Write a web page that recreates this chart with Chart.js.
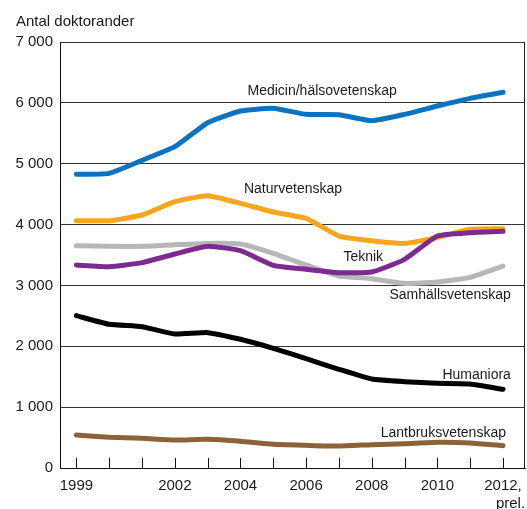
<!DOCTYPE html>
<html>
<head>
<meta charset="utf-8">
<script src="https://cdn.jsdelivr.net/npm/chart.js@4/dist/chart.umd.min.js"></script>
<style>
html,body{margin:0;padding:0;background:#fff;}
#wrap{width:527px;height:509px;position:relative;}
</style>
</head>
<body>
<div id="wrap"><canvas id="c" width="527" height="509"></canvas></div>
<script>
const years = [1999,2000,2001,2002,2003,2004,2005,2006,2007,2008,2009,2010,2011,2012];
const labeledYears = [1999,2002,2004,2006,2008,2010,2012];
const yTicks = [0,1000,2000,3000,4000,5000,6000,7000];

const medicin = [4826,4842,5055,5280,5674,5866,5910,5811,5805,5707,5811,5948,6074,6173];
const naturvetenskap = [4064,4064,4157,4376,4475,4349,4206,4102,3812,3735,3691,3790,3922,3932];
const teknik = [3336,3308,3374,3516,3643,3571,3331,3265,3209,3220,3429,3812,3866,3889];
const samhallsvetenskap = [3653,3643,3643,3669,3691,3680,3527,3336,3155,3111,3034,3056,3133,3319];
const humaniora = [2503,2361,2322,2202,2224,2115,1967,1796,1622,1462,1418,1391,1380,1293];
const lantbruksvetenskap = [542,504,488,460,471,438,389,373,361,383,399,422,411,367];

const seriesNames = ["Medicin/hälsovetenskap","Naturvetenskap","Teknik","Samhällsvetenskap","Humaniora","Lantbruksvetenskap"];
const seriesValues = [medicin,naturvetenskap,teknik,samhallsvetenskap,humaniora,lantbruksvetenskap];
const seriesColors = ["#0b73c1","#f8a620","#7d2a91","#b5b7b9","#000000","#8c6239"];

// label anchor points in data space [x, y, align]
const labelAnchors = [
  [2006.49, 6200, "center"],
  [2005.6, 4584, "center"],
  [2007.74, 3459, "center"],
  [2012.24, 2834, "right"],
  [2012.24, 1520, "right"],
  [2012.09, 575, "right"]
];

const FONT = "'Liberation Sans', Arial, Helvetica, sans-serif";

const datasets = seriesNames.map((n,i)=>({
  label:n,
  data: years.map((y,j)=>({x:y,y:seriesValues[i][j]})),
  borderColor: seriesColors[i],
  backgroundColor: seriesColors[i],
  borderWidth: 5,
  pointRadius: 0,
  tension: 0.15,
  borderCapStyle: 'round',
  borderJoinStyle: 'round',
  fill: false,
  order: [1,3,2,4,5,6][i]
}));

const overlay = {
  id:'overlay',
  afterDraw(chart){
    const ctx = chart.ctx;
    const xs = chart.scales.x, ys = chart.scales.y;
    const area = chart.chartArea;
    ctx.save();
    // inner tick marks
    ctx.strokeStyle = '#111';
    ctx.lineWidth = 1;
    years.forEach(y=>{
      const px = Math.round(xs.getPixelForValue(y))+0.5;
      ctx.beginPath();
      ctx.moveTo(px, area.bottom);
      ctx.lineTo(px, area.bottom-10);
      ctx.stroke();
    });
    // right border
    ctx.beginPath();
    ctx.moveTo(Math.round(area.right)-0.5, area.top);
    ctx.lineTo(Math.round(area.right)-0.5, area.bottom);
    ctx.strokeStyle = '#222';
    ctx.stroke();
    // series labels
    ctx.fillStyle = '#1a1a1a';
    ctx.font = '14px ' + FONT;
    ctx.textBaseline = 'middle';
    labelAnchors.forEach((a,i)=>{
      ctx.textAlign = a[2];
      ctx.fillText(seriesNames[i], xs.getPixelForValue(a[0]), ys.getPixelForValue(a[1]));
    });
    // axis title
    ctx.textAlign = 'left';
    ctx.font = '15px ' + FONT;
    ctx.fillText('Antal doktorander', 16, 22);
    ctx.restore();
  }
};

new Chart(document.getElementById('c'), {
  type:'line',
  data:{datasets},
  options:{
    responsive:false,
    animation:false,
    layout:{padding:{left:0,right:2,top:42,bottom:0}},
    plugins:{legend:{display:false},tooltip:{enabled:false}},
    scales:{
      x:{
        type:'linear',
        min:1998.5,
        max:2012.67,
        afterBuildTicks(scale){ scale.ticks = labeledYears.map(v=>({value:v})); },
        afterFit(scale){ scale.height = 41; scale.paddingLeft = 0; scale.paddingRight = 0; },
        grid:{display:false, drawTicks:false},
        border:{display:true,color:'#111',width:1},
        ticks:{
          autoSkip:false,
          maxRotation:0,
          padding:9,
          color:'#1a1a1a',
          font:{family:FONT,size:15},
          callback:(v)=> v===2012 ? ['2012,','\u2002\u2002prel.'] : String(v)
        }
      },
      y:{
        min:0,max:7000,
        afterBuildTicks(scale){ scale.ticks = yTicks.map(v=>({value:v})); },
        afterFit(scale){ scale.width = 60; scale.paddingTop = 0; scale.paddingBottom = 0; },
        grid:{color:'#333',lineWidth:1,drawTicks:false},
        border:{display:true,color:'#111',width:1},
        ticks:{
          padding:7,
          color:'#1a1a1a',
          font:{family:FONT,size:15},
          callback:(v)=> v===0 ? '0' : (v/1000)+' 000'
        }
      }
    }
  },
  plugins:[overlay]
});
</script>
</body>
</html>
